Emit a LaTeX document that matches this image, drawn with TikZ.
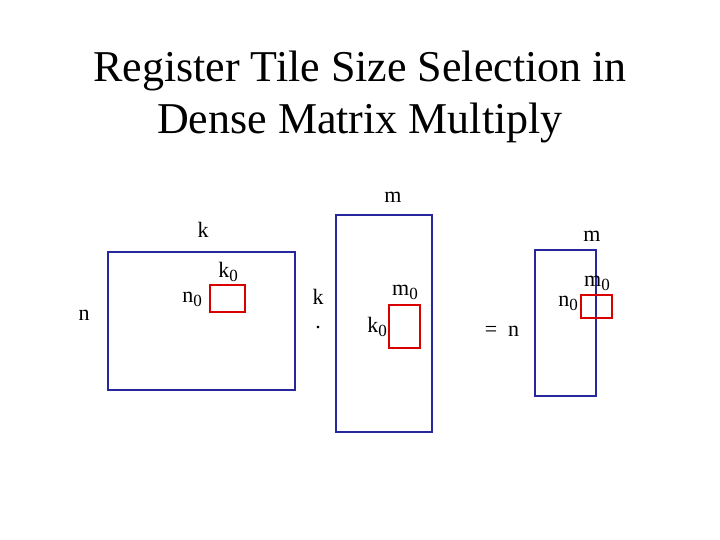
\documentclass[tikz,border=0pt]{standalone}
\usepackage{fontspec}
\setmainfont{Liberation Serif}
\newcommand{\zsub}{\raisebox{-4pt}{\fontsize{17}{17}\selectfont 0}}
\begin{document}
\begin{tikzpicture}[x=1pt,y=-1pt,
 big/.style={draw=blue!55!black!85,line width=2.5pt},
 tile/.style={draw=red!85!black,line width=1.8pt},
 lab/.style={font=\fontsize{22}{24}\selectfont,inner sep=0pt}]
\useasboundingbox (0,0) rectangle (720,540);
\node[inner sep=0pt,align=center,font=\fontsize{44}{52}\selectfont] (title) at (360,97) {Register Tile Size Selection in\\Dense Matrix Multiply};
\draw[big] (108,252) rectangle (295,390);
\draw[tile] (210,285) rectangle (245,312);
\node[lab] (ka) at (203,230) {k};
\node[lab] (na) at (84,315) {n};
\node[lab] (n0a) at (192,299) {n\zsub};
\node[lab] (k0a) at (228,272) {k\zsub};
\draw[big] (336,215) rectangle (432,432);
\draw[tile] (389,305) rectangle (420,348);
\node[lab] (mb) at (393,197) {m};
\node[lab] (kb) at (318,297) {k};
\node[lab] (dot) at (318,328) {.};
\node[lab] (m0b) at (405,292) {m\zsub};
\node[lab] (k0b) at (377,327) {k\zsub};
\draw[big] (535,250) rectangle (596,396);
\draw[tile] (581,295) rectangle (612,318);
\node[lab] (mc) at (592,236) {m};
\node[lab] (m0c) at (597,283) {m\zsub};
\node[lab] (n0c) at (568,303) {n\zsub};
\node[lab] (eq) at (502,331) {=\ \ n};
\end{tikzpicture}
\end{document}
